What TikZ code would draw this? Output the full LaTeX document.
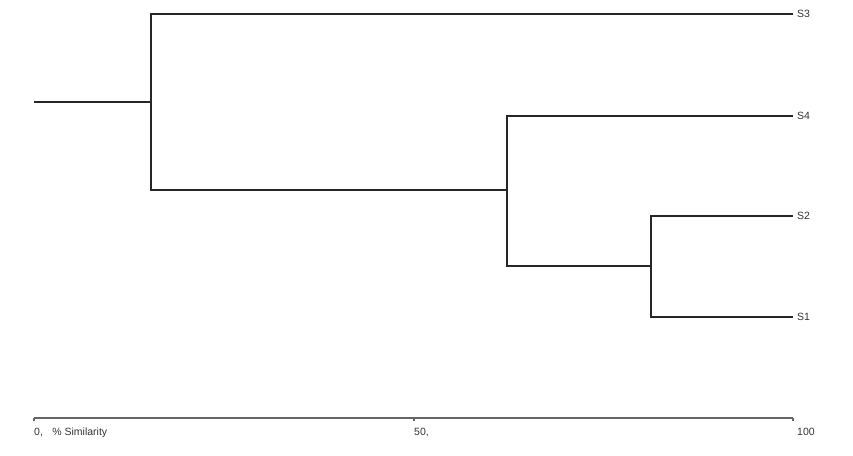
\documentclass[tikz,border=0pt]{standalone}
\usepackage{fontspec}
\setmainfont{Liberation Sans}
\begin{document}
\begin{tikzpicture}[x=1pt,y=-1pt,
  branch/.style={line width=1.6pt,black!85},
  axisline/.style={line width=1.2pt,black!60},
  leaf/.style={anchor=west,inner sep=0pt,font=\fontsize{10.5}{12}\selectfont,text=black!80},
  ticklabel/.style={anchor=north west,inner sep=0pt,font=\fontsize{10.5}{12}\selectfont,text=black!80}]
\useasboundingbox (0,0) rectangle (853,455);
% leaf ends and labels
\coordinate (e3) at (793,14);
\coordinate (e4) at (793,116);
\coordinate (e2) at (793,216);
\coordinate (e1) at (793,317);
\node[leaf] (s3) at (797,14) {S3};
\node[leaf] (s4) at (797,116) {S4};
\node[leaf] (s2) at (797,216) {S2};
\node[leaf] (s1) at (797,317) {S1};
% merge points
\coordinate (root) at (34,102);
\coordinate (m1) at (151,102);
\coordinate (m2) at (507,190);
\coordinate (m3) at (651,266);
% tree
\draw[branch] (root) -- (m1);
\draw[branch] (e3) -| (m1) |- (151,190) -- (m2);
\draw[branch] (e4) -| (m2) |- (m3);
\draw[branch] (e2) -| (m3) |- (e1);
% similarity axis
\coordinate (a0) at (34,418);
\coordinate (a50) at (414,418);
\coordinate (a100) at (793,418);
\draw[axisline] (a0) -- (a100);
\draw[axisline] (a0) -- ++(0,3) (a50) -- ++(0,3) (a100) -- ++(0,3);
\node[ticklabel] (t0) at (34,428) {0,\hspace{0.9em}\% Similarity};
\node[ticklabel] (t50) at (414,428) {50,};
\node[ticklabel] (t100) at (797,428) {100};
\end{tikzpicture}
\end{document}
